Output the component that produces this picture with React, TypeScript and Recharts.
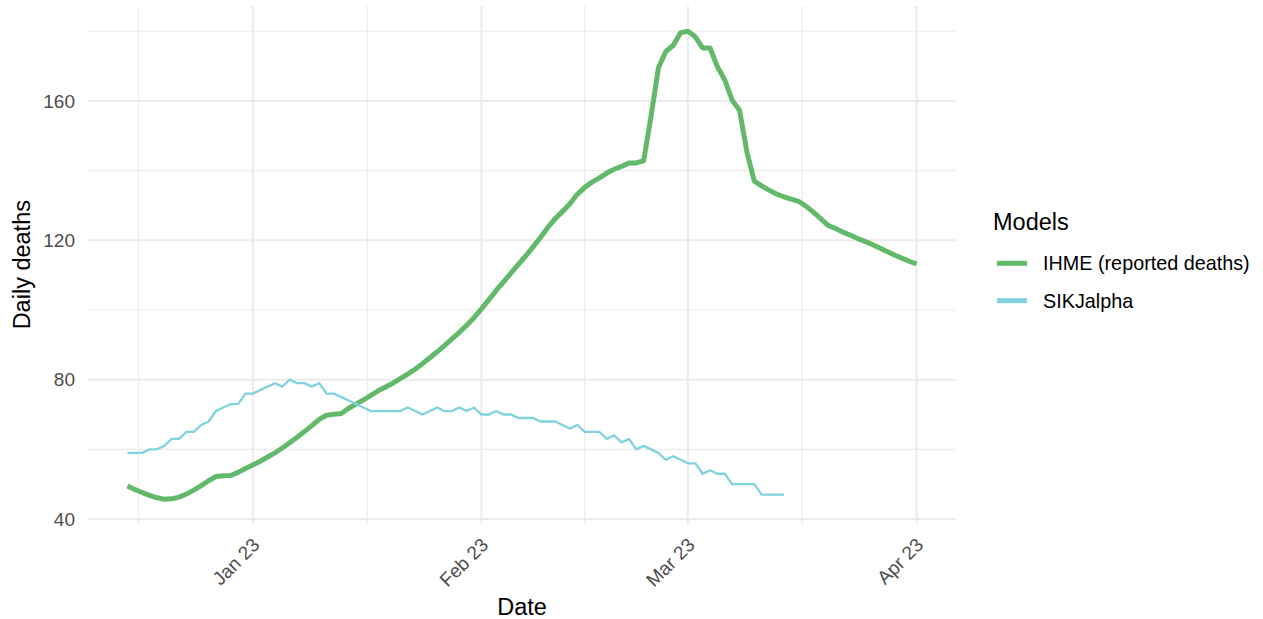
import { LineChart, Line, XAxis, YAxis, ReferenceLine } from 'recharts';

// day 0 = 15 Dec 2022, one value per day
const ihmeDeaths = [
  49.5, 48.5, 47.6, 46.8, 46.1, 45.7, 45.8, 46.3, 47.2, 48.3,
  49.6, 51.0, 52.2, 52.4, 52.5, 53.4, 54.5, 55.5, 56.6, 57.8,
  59.0, 60.4, 61.9, 63.5, 65.1, 66.8, 68.6, 69.8, 70.1, 70.3,
  71.8, 73.0, 74.2, 75.5, 76.8, 77.9, 79.0, 80.3, 81.6, 83.0,
  84.6, 86.3, 88.0, 89.8, 91.7, 93.6, 95.6, 97.8, 100.3, 102.9,
  105.6, 108.1, 110.6, 113.1, 115.5, 118.1, 120.8, 123.7, 126.2, 128.3,
  130.5, 133.2, 135.2, 136.7, 137.9, 139.3, 140.4, 141.2, 142.2, 142.2,
  142.9, 155.6, 169.5, 174.2, 175.9, 179.6, 180.0, 178.4, 175.2, 175.2,
  169.8, 166.0, 160.2, 157.3, 145.3, 137.0, 135.6, 134.4, 133.3, 132.5,
  131.8, 131.2, 129.8, 128.1, 126.2, 124.3, 123.4, 122.4, 121.5, 120.5,
  119.7, 118.8, 117.8, 116.8, 115.8, 114.9, 114.0, 113.2,
];

const sikjalphaDeaths = [
  59, 59, 59, 60, 60, 61, 63, 63, 65, 65,
  67, 68, 71, 72, 73, 73, 76, 76, 77, 78,
  79, 78, 80, 79, 79, 78, 79, 76, 76, 75,
  74, 73, 72, 71, 71, 71, 71, 71, 72, 71,
  70, 71, 72, 71, 71, 72, 71, 72, 70, 70,
  71, 70, 70, 69, 69, 69, 68, 68, 68, 67,
  66, 67, 65, 65, 65, 63, 64, 62, 63, 60,
  61, 60, 59, 57, 58, 57, 56, 56, 53, 54,
  53, 53, 50, 50, 50, 50, 47, 47, 47, 47,
];

const xTickDays = [17, 48, 76, 107];
const xTickLabels = ['Jan 23', 'Feb 23', 'Mar 23', 'Apr 23'];
const xMinorDays = [1.5, 32.5, 62, 91.5];
const yTicks = [40, 80, 120, 160];
const yMinor = [60, 100, 140, 180];

const GREEN = '#63B96A';
const CYAN = '#80D3DE';
const GRID = '#EBEBEB';
const FONT = '"Liberation Sans", Arial, Helvetica, sans-serif';

const legendItems = [
  { name: 'IHME (reported deaths)', color: GREEN },
  { name: 'SIKJalpha', color: CYAN },
];

const data = ihmeDeaths.map((v, i) => ({
  day: i,
  ihme: v,
  sik: i < sikjalphaDeaths.length ? sikjalphaDeaths[i] : undefined,
}));

function DateTick(props: any) {
  const { x, y, payload } = props;
  const label = xTickLabels[xTickDays.indexOf(payload.value)];
  const ax = x + 8;
  const ay = y + 22.6;
  return (
    <text
      x={ax}
      y={ay}
      transform={`rotate(-45 ${ax} ${ay})`}
      textAnchor="end"
      fill="#4D4D4D"
      fontSize={19}
      fontFamily={FONT}
    >
      {label}
    </text>
  );
}

export default function App() {
  return (
    <div style={{ position: 'relative', width: 1263, height: 619 }}>
      <style>{'body{margin:0}'}</style>
      <LineChart
        width={1263}
        height={619}
        data={data}
        margin={{ top: 6, right: 307, bottom: 0, left: 0 }}
      >
        <XAxis
          dataKey="day"
          type="number"
          domain={[-5.35, 112.35]}
          ticks={xTickDays}
          tick={<DateTick />}
          tickLine={false}
          axisLine={false}
          tickSize={0}
          tickMargin={0}
          height={95.6}
          interval={0}
          allowDataOverflow
          label={(p: any) => {
            const vb = p.viewBox;
            return (
              <text x={vb.x + vb.width / 2} y={615} textAnchor="middle" fontSize={23.5} fontFamily={FONT} fill="#000">
                Date
              </text>
            );
          }}
        />
        <YAxis
          type="number"
          domain={[38.75, 187.25]}
          ticks={yTicks}
          tickLine={false}
          axisLine={false}
          tickSize={0}
          tickMargin={13}
          width={88}
          allowDataOverflow
          tick={{ fill: '#4D4D4D', fontSize: 19, fontFamily: FONT }}
          label={(p: any) => {
            const vb = p.viewBox;
            const cy = vb.y + vb.height / 2;
            return (
              <text x={30} y={cy} transform={`rotate(-90 30 ${cy})`} textAnchor="middle" fontSize={23.5} fontFamily={FONT} fill="#000">
                Daily deaths
              </text>
            );
          }}
        />
        {xMinorDays.map((d) => (
          <ReferenceLine key={`xm${d}`} x={d} stroke={GRID} strokeWidth={1.2} />
        ))}
        {yMinor.map((v) => (
          <ReferenceLine key={`ym${v}`} y={v} stroke={GRID} strokeWidth={1.2} />
        ))}
        {xTickDays.map((d) => (
          <ReferenceLine key={`xM${d}`} x={d} stroke={GRID} strokeWidth={2} />
        ))}
        {yTicks.map((v) => (
          <ReferenceLine key={`yM${v}`} y={v} stroke={GRID} strokeWidth={2} />
        ))}
        <Line
          dataKey="ihme"
          type="linear"
          stroke={GREEN}
          strokeWidth={5}
          dot={false}
          activeDot={false}
          isAnimationActive={false}
          strokeLinejoin="round"
        />
        <Line
          dataKey="sik"
          type="linear"
          stroke={CYAN}
          strokeWidth={2.3}
          dot={false}
          activeDot={false}
          isAnimationActive={false}
          connectNulls={false}
        />
      </LineChart>
      <svg
        width={1263}
        height={619}
        style={{ position: 'absolute', left: 0, top: 0, pointerEvents: 'none' }}
      >
        <text x={993} y={230} fontSize={23.5} fontFamily={FONT} fill="#000">
          Models
        </text>
        {legendItems.map((it, i) => {
          const cy = 263.3 + i * 37.4;
          return (
            <g key={it.name}>
              <line x1={997} x2={1027} y1={cy} y2={cy} stroke={it.color} strokeWidth={5} />
              <text x={1043} y={cy + 7} fontSize={19.8} fontFamily={FONT} fill="#000">
                {it.name}
              </text>
            </g>
          );
        })}
      </svg>
    </div>
  );
}
